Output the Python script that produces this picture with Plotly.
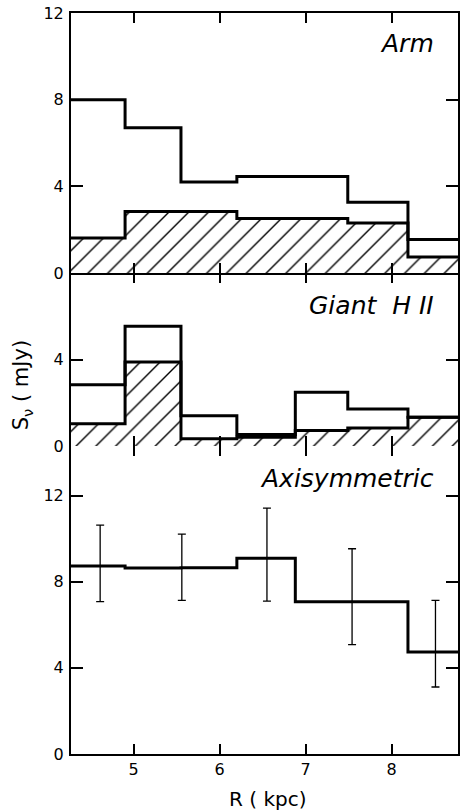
import plotly.graph_objects as go

# ---- data ----
edges = [4.25, 4.9, 5.55, 6.2, 6.88, 7.49, 8.19, 8.9]

arm_total = [8.0, 6.7, 4.2, 4.45, 4.45, 3.26, 1.55]
arm_hatched = [1.62, 2.84, 2.84, 2.52, 2.52, 2.31, 0.74]

hii_total = [2.83, 5.54, 1.4, 0.53, 2.48, 1.71, 1.33]
hii_hatched = [1.03, 3.89, 0.34, 0.40, 0.72, 0.83, 1.33]

axi_total = [8.73, 8.64, 8.65, 9.09, 7.07, 7.07, 4.74]
err_x = [4.61, 5.56, 6.55, 7.54, 8.51]
err_hi = [10.63, 10.21, 11.42, 9.53, 7.13]
err_lo = [7.07, 7.13, 7.10, 5.08, 3.11]
err_y = [8.73, 8.64, 9.09, 7.07, 4.74]

xticks = [5, 6, 7, 8]
panel_labels = ["Arm", "Giant  H II", "Axisymmetric"]
xlabel = "R ( kpc)"
ylabel = "S<sub>ν</sub> ( mJy)"


def step(vals):
    return edges, list(vals) + [vals[-1]]


FONT = "DejaVu Sans"
fig = go.Figure()

THICK = 3


def hatched(vals, xa, ya):
    x, y = step(vals)
    fig.add_trace(go.Scatter(
        x=x, y=y, xaxis=xa, yaxis=ya, mode="lines", line_shape="hv",
        line=dict(color="black", width=THICK), fill="tozeroy",
        fillcolor="white",
        fillpattern=dict(shape="/", size=14, solidity=0.1, fgopacity=1,
                         fgcolor="black", bgcolor="white"),
        showlegend=False, hoverinfo="skip"))


def outline(vals, xa, ya):
    x, y = step(vals)
    fig.add_trace(go.Scatter(
        x=x, y=y, xaxis=xa, yaxis=ya, mode="lines", line_shape="hv",
        line=dict(color="black", width=THICK),
        showlegend=False, hoverinfo="skip"))


# top panel (Arm): x3/y3
hatched(arm_hatched, "x3", "y3")
outline(arm_total, "x3", "y3")
# middle panel (Giant HII): x2/y2
hatched(hii_hatched, "x2", "y2")
outline(hii_total, "x2", "y2")
# bottom panel (Axisymmetric): x/y
outline(axi_total, "x", "y")
fig.add_trace(go.Scatter(
    x=err_x, y=err_y, xaxis="x", yaxis="y", mode="markers",
    marker=dict(size=6, color="black", opacity=0),
    error_y=dict(type="data", symmetric=False,
                 array=[h - c for h, c in zip(err_hi, err_y)],
                 arrayminus=[c - l for l, c in zip(err_lo, err_y)],
                 color="black", thickness=1.3, width=4),
    showlegend=False, hoverinfo="skip"))

xr = [4.271, 8.772]
common_x = dict(range=xr, tickvals=xticks, ticks="inside", ticklen=10,
                tickwidth=1.5, tickcolor="black", showgrid=False,
                zeroline=False, mirror="ticks", linecolor="black",
                linewidth=2)
common_y = dict(ticks="inside", ticklen=12, tickwidth=1.5,
                tickcolor="black", showgrid=False, zeroline=False,
                mirror="ticks", showline=True, linecolor="black",
                linewidth=2, tickfont=dict(family=FONT, size=16, color="black"),
                ticklabelstandoff=2)

d1 = 308 / 741
d2 = (308 + 173) / 741

fig.update_layout(
    width=460, height=812,
    margin=dict(l=71, r=0, t=13, b=58),
    paper_bgcolor="white", plot_bgcolor="white",
    xaxis=dict(**common_x, anchor="y", showline=True, showticklabels=True,
               tickfont=dict(family=FONT, size=16, color="black")),
    xaxis2=dict(**common_x, anchor="y2", showline=False, showticklabels=False),
    xaxis3=dict(**common_x, anchor="y3", showline=True, showticklabels=False),
    yaxis=dict(**common_y, domain=[0, d1], range=[0, 14.3],
               tickvals=[0, 4, 8, 12], anchor="x"),
    yaxis2=dict(**common_y, domain=[d1, d2], range=[0, 8],
                tickvals=[0, 4], anchor="x2"),
    yaxis3=dict(**common_y, domain=[d2, 1], range=[0, 12],
                tickvals=[0, 4, 8, 12], anchor="x3"),
)

lab_font = dict(family=FONT, size=25, color="black")
label_y = [(754 - 44) / 741, (754 - 305) / 741, (754 - 478) / 741]
for txt, yy in zip(panel_labels, label_y):
    fig.add_annotation(text=f"<i>{txt}</i>", xref="paper", yref="paper",
                       x=(438 - 71) / 389, y=yy, xanchor="right",
                       yanchor="middle", showarrow=False, font=lab_font)

fig.add_annotation(text=xlabel, xref="paper", yref="paper",
                   x=(269 - 71) / 389, y=(754 - 799) / 741,
                   xanchor="center", yanchor="middle", showarrow=False,
                   font=dict(family=FONT, size=20, color="black"))
fig.add_annotation(text=ylabel, xref="paper", yref="paper",
                   x=(22 - 71) / 389, y=(754 - 385) / 741,
                   xanchor="center", yanchor="middle", showarrow=False,
                   textangle=-90,
                   font=dict(family=FONT, size=21, color="black"))

fig.write_html("out.html")
